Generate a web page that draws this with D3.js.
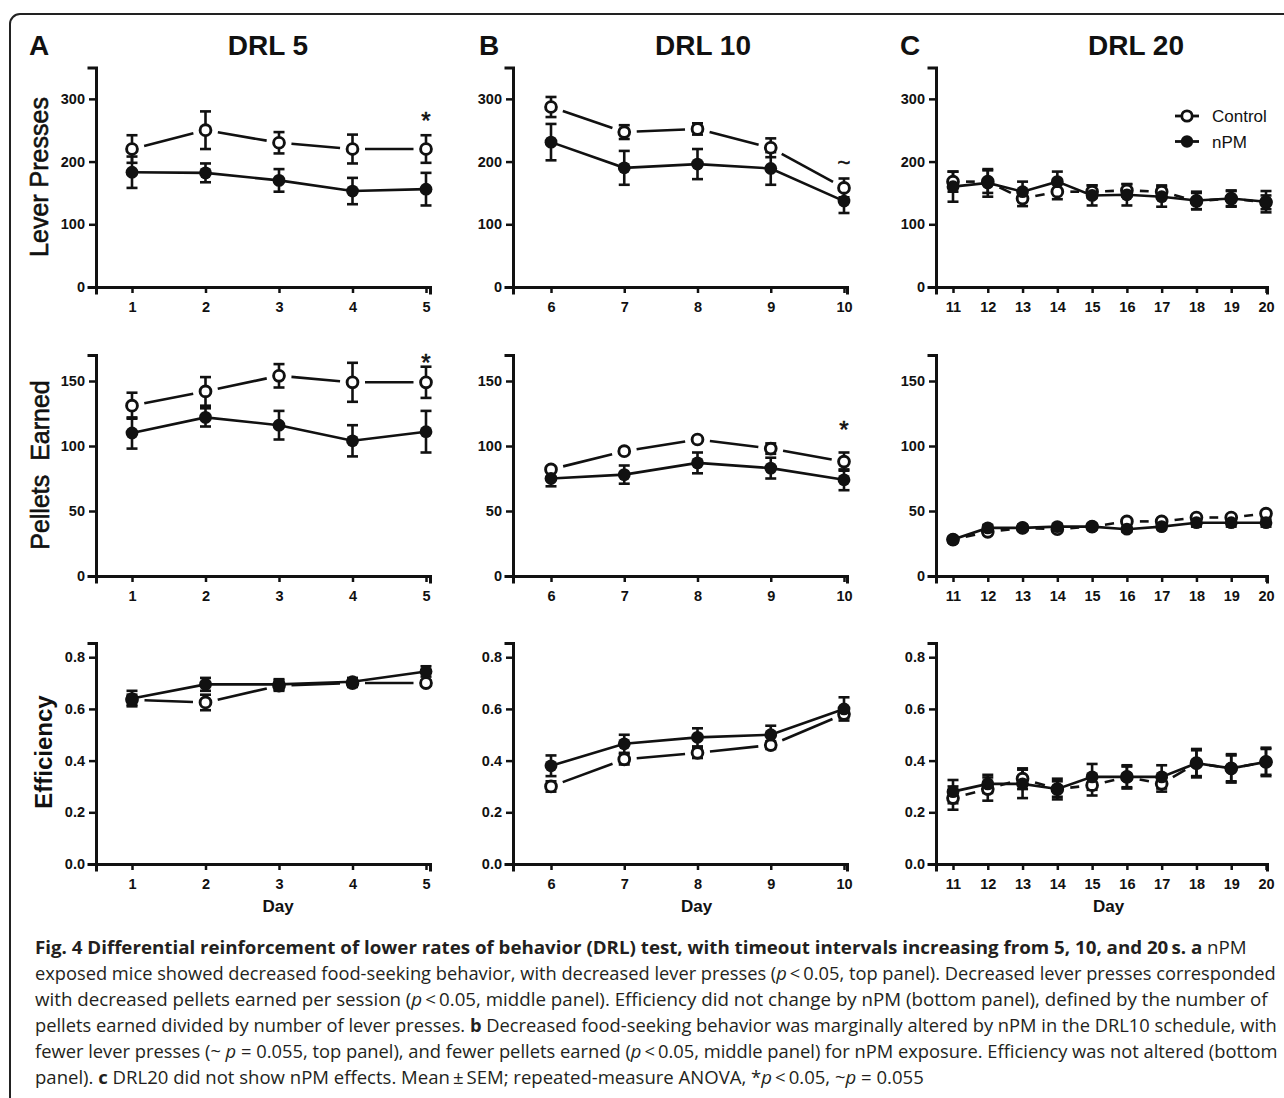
<!DOCTYPE html>
<html><head><meta charset="utf-8">
<script src="https://cdn.jsdelivr.net/npm/d3@7"></script>
<style>
body{margin:0;background:#fff}
svg text{font-family:"Liberation Sans",Arial,sans-serif}
</style>
</head><body>
<svg id="chart" width="1284" height="1098"></svg>
<script>
// ---------- DATA ----------
const daysA = [1, 2, 3, 4, 5];
const daysB = [6, 7, 8, 9, 10];
const daysC = [11, 12, 13, 14, 15, 16, 17, 18, 19, 20];

// Lever presses
const lpCtrlA = [220, 250, 230, 220, 220];
const lpCtrlErrA = [22, 30, 17, 23, 22];
const lpNpmA = [183, 182, 170, 153, 156];
const lpNpmErrA = [25, 15, 18, 21, 26];
const lpCtrlB = [287, 247, 252, 222, 158];
const lpCtrlErrB = [16, 11, 9, 15, 15];
const lpNpmB = [231, 190, 196, 189, 137];
const lpNpmErrB = [29, 27, 24, 26, 19];
const lpCtrlC = [168, 168, 141, 152, 152, 154, 152, 137, 141, 135];
const lpCtrlErrC = [16, 18, 12, 12, 10, 10, 10, 13, 12, 11];
const lpNpmC = [160, 166, 152, 168, 146, 147, 144, 138, 141, 136];
const lpNpmErrC = [24, 22, 16, 16, 16, 17, 16, 14, 13, 17];

// Pellets earned
const peCtrlA = [131, 142, 154, 149, 149];
const peCtrlErrA = [10, 11, 9, 15, 12];
const peNpmA = [110, 122, 116, 104, 111];
const peNpmErrA = [12, 7, 11, 12, 16];
const peCtrlB = [82, 96, 105, 98, 88];
const peCtrlErrB = [2, 2, 2, 4, 7];
const peNpmB = [75, 78, 87, 83, 74];
const peNpmErrB = [6, 7, 8, 8, 8];
const peCtrlC = [28, 34, 37, 36, 38, 42, 42, 45, 45, 48];
const peCtrlErrC = [2, 2, 2, 2, 2, 2, 2, 2, 2, 2];
const peNpmC = [28, 37, 37, 38, 38, 36, 38, 41, 41, 41];
const peNpmErrC = [2, 2, 2, 2, 2, 2, 2, 3, 3, 3];

// Efficiency
const efCtrlA = [0.635, 0.625, 0.69, 0.70, 0.70];
const efCtrlErrA = [0.02, 0.03, 0.02, 0.015, 0.01];
const efNpmA = [0.64, 0.695, 0.695, 0.705, 0.745];
const efNpmErrA = [0.03, 0.025, 0.02, 0.015, 0.02];
const efCtrlB = [0.30, 0.405, 0.43, 0.46, 0.58];
const efCtrlErrB = [0.02, 0.02, 0.02, 0.015, 0.015];
const efNpmB = [0.38, 0.465, 0.49, 0.50, 0.60];
const efNpmErrB = [0.04, 0.035, 0.035, 0.035, 0.045];
const efCtrlC = [0.255, 0.29, 0.33, 0.29, 0.305, 0.337, 0.31, 0.39, 0.37, 0.395];
const efCtrlErrC = [0.045, 0.045, 0.04, 0.03, 0.04, 0.04, 0.03, 0.05, 0.05, 0.05];
const efNpmC = [0.28, 0.31, 0.31, 0.29, 0.337, 0.337, 0.337, 0.39, 0.37, 0.395];
const efNpmErrC = [0.045, 0.035, 0.055, 0.04, 0.05, 0.045, 0.045, 0.055, 0.055, 0.055];

// Labels / ticks
const panelLetters = ["A", "B", "C"];
const panelTitles = ["DRL 5", "DRL 10", "DRL 20"];
const rowLabels = ["Lever Presses", "Pellets  Earned", "Efficiency"];
const yTicksLever = [0, 100, 200, 300];
const yTicksPellets = [0, 50, 100, 150];
const yTicksEff = [0, 0.2, 0.4, 0.6, 0.8];
const yMaxes = [350, 170, 0.855];
const xAxisLabel = "Day";
const legendLabels = ["Control", "nPM"];
const annotations = [
  {col: 0, row: 0, day: 5, value: 274, text: "*"},
  {col: 0, row: 1, day: 5, value: 168, text: "*"},
  {col: 1, row: 1, day: 10, value: 117, text: "*"},
  {col: 1, row: 0, day: 10, value: 198, text: "~"}
];
const captionLines = [
  [["Fig. 4 Differential reinforcement of lower rates of behavior (DRL) test, with timeout intervals increasing from 5, 10, and 20\u2009s. a", "b"], [" nPM", ""]],
  [["exposed mice showed decreased food-seeking behavior, with decreased lever presses (", ""], ["p", "i"], ["\u2009<\u20090.05, top panel). Decreased lever presses corresponded", ""]],
  [["with decreased pellets earned per session (", ""], ["p", "i"], ["\u2009<\u20090.05, middle panel). Efficiency did not change by nPM (bottom panel), defined by the number of", ""]],
  [["pellets earned divided by number of lever presses. ", ""], ["b", "b"], [" Decreased food-seeking behavior was marginally altered by nPM in the DRL10 schedule, with", ""]],
  [["fewer lever presses (~ ", ""], ["p", "i"], [" = 0.055, top panel), and fewer pellets earned (", ""], ["p", "i"], ["\u2009<\u20090.05, middle panel) for nPM exposure. Efficiency was not altered (bottom", ""]],
  [["panel). ", ""], ["c", "b"], [" DRL20 did not show nPM effects. Mean\u2009\u00b1\u2009SEM; repeated-measure ANOVA, *", ""], ["p", "i"], ["\u2009<\u20090.05, ~", ""], ["p", "i"], [" = 0.055", ""]]
];

// ---------- LAYOUT ----------
const svg = d3.select("#chart");
const INK = "#111";
const cols = [
  {left: 96, right: 430, first: 132, last: 426, days: daysA, letterX: 29, titleX: 268},
  {left: 513, right: 847, first: 551, last: 844, days: daysB, letterX: 479, titleX: 703},
  {left: 936, right: 1267, first: 953, last: 1266, days: daysC, letterX: 900, titleX: 1136}
];
const rows = [
  {bottom: 287, top: 67.5, ticks: yTicksLever, fmt: d3.format("d"), labelX: 48, labelY: 177, labelSize: 25, labelWeight: "normal"},
  {bottom: 576, top: 355, ticks: yTicksPellets, fmt: d3.format("d"), labelX: 49, labelY: 465, labelSize: 25, labelWeight: "normal"},
  {bottom: 864, top: 643, ticks: yTicksEff, fmt: d3.format(".1f"), labelX: 52, labelY: 752, labelSize: 24, labelWeight: "bold"}
];
const series = [
  [[lpCtrlA, lpCtrlErrA, lpNpmA, lpNpmErrA], [lpCtrlB, lpCtrlErrB, lpNpmB, lpNpmErrB], [lpCtrlC, lpCtrlErrC, lpNpmC, lpNpmErrC]],
  [[peCtrlA, peCtrlErrA, peNpmA, peNpmErrA], [peCtrlB, peCtrlErrB, peNpmB, peNpmErrB], [peCtrlC, peCtrlErrC, peNpmC, peNpmErrC]],
  [[efCtrlA, efCtrlErrA, efNpmA, efNpmErrA], [efCtrlB, efCtrlErrB, efNpmB, efNpmErrB], [efCtrlC, efCtrlErrC, efNpmC, efNpmErrC]]
];

// frame
svg.append("rect").attr("x", 10).attr("y", 14).attr("width", 1300).attr("height", 1120)
  .attr("rx", 10).attr("fill", "none").attr("stroke", "#222").attr("stroke-width", 2);

// titles
cols.forEach((c, ci) => {
  svg.append("text").attr("x", c.letterX).attr("y", 55).text(panelLetters[ci])
    .attr("font-size", 28).attr("font-weight", "bold").attr("fill", INK);
  svg.append("text").attr("x", c.titleX).attr("y", 55).attr("text-anchor", "middle").text(panelTitles[ci])
    .attr("font-size", 28).attr("font-weight", "bold").attr("fill", INK);
});

// row labels
rows.forEach((r, ri) => {
  svg.append("text").attr("transform", `translate(${r.labelX},${r.labelY}) rotate(-90)`)
    .attr("text-anchor", "middle").attr("font-size", r.labelSize).attr("font-weight", r.labelWeight)
    .attr("fill", INK).attr("stroke", INK).attr("stroke-width", r.labelWeight === "bold" ? 0 : 0.6)
    .style("white-space", "pre").text(rowLabels[ri]);
});

const scales = [];
rows.forEach((r, ri) => {
  scales[ri] = [];
  cols.forEach((c, ci) => {
    const days = c.days;
    const base = d3.scaleLinear().domain([days[0], days[days.length - 1]]).range([c.first, c.last]);
    const x = d3.scaleLinear().domain([base.invert(c.left), base.invert(c.right)]).range([c.left, c.right]);
    const y = d3.scaleLinear().domain([0, yMaxes[ri]]).range([r.bottom, r.top]);
    scales[ri][ci] = {x, y};
    const g = svg.append("g");

    // axes
    const gx = g.append("g").attr("transform", `translate(0,${r.bottom})`)
      .call(d3.axisBottom(x).tickValues(days).tickSizeOuter(0).tickSize(6).tickPadding(9).tickFormat(d3.format("d")));
    const gy = g.append("g").attr("transform", `translate(${c.left},0)`)
      .call(d3.axisLeft(y).tickValues(r.ticks).tickSizeOuter(0).tickSize(7).tickPadding(4).tickFormat(r.fmt));
    [gx, gy].forEach(a => {
      a.select(".domain").attr("stroke", INK).attr("stroke-width", 3).attr("stroke-linecap", "square");
      a.selectAll(".tick line").attr("stroke", INK).attr("stroke-width", 2.5);
      a.selectAll(".tick text").attr("fill", INK).attr("font-size", 14.5).attr("font-weight", "bold")
        .attr("font-family", "'Liberation Sans', Arial, sans-serif");
    });
    if (ri === 2) {
      g.append("text").attr("x", (c.first + c.last) / 2 - 1).attr("y", 912).attr("text-anchor", "middle")
        .attr("font-size", 17).attr("font-weight", "bold").attr("fill", INK).text(xAxisLabel);
    }

    const [ctrl, ctrlErr, npm, npmErr] = series[ri][ci];
    const pts = (vals, errs) => days.map((d, i) => ({x: x(d), y: y(vals[i]), lo: y(vals[i] - errs[i]), hi: y(vals[i] + errs[i])}));
    const cp = pts(ctrl, ctrlErr), np = pts(npm, npmErr);

    // nPM solid line
    g.append("path").datum(np).attr("fill", "none").attr("stroke", INK).attr("stroke-width", 2.6)
      .attr("d", d3.line().x(p => p.x).y(p => p.y));
    // control broken line (gaps at markers)
    const gap = ci === 2 ? 13 : 12.5;
    for (let i = 0; i < cp.length - 1; i++) {
      const a = cp[i], b = cp[i + 1];
      const dx = b.x - a.x, dy = b.y - a.y, L = Math.hypot(dx, dy);
      if (L <= 2 * gap) continue;
      const ux = dx / L, uy = dy / L;
      g.append("line").attr("x1", a.x + ux * gap).attr("y1", a.y + uy * gap)
        .attr("x2", b.x - ux * gap).attr("y2", b.y - uy * gap)
        .attr("stroke", INK).attr("stroke-width", 2.6);
    }
    // error bars
    const cap = 5.5;
    [cp, np].forEach(set => {
      set.forEach(p => {
        g.append("line").attr("x1", p.x).attr("x2", p.x).attr("y1", p.lo).attr("y2", p.hi)
          .attr("stroke", INK).attr("stroke-width", 2.6);
        [p.lo, p.hi].forEach(yy => g.append("line").attr("x1", p.x - cap).attr("x2", p.x + cap)
          .attr("y1", yy).attr("y2", yy).attr("stroke", INK).attr("stroke-width", 2.6));
      });
    });
    // markers
    g.selectAll(null).data(cp).enter().append("circle").attr("cx", p => p.x).attr("cy", p => p.y)
      .attr("r", 5.4).attr("fill", "#fff").attr("stroke", INK).attr("stroke-width", 2.9);
    g.selectAll(null).data(np).enter().append("circle").attr("cx", p => p.x).attr("cy", p => p.y)
      .attr("r", 6.4).attr("fill", INK);
  });
});

// annotations
annotations.forEach(a => {
  const s = scales[a.row][a.col];
  const fs = a.text === "*" ? 24 : 22;
  const lift = a.text === "*" ? 0.57 : 0.33;
  svg.append("text").attr("x", s.x(a.day)).attr("y", s.y(a.value) + lift * fs)
    .attr("text-anchor", "middle").attr("font-size", fs).attr("fill", INK)
    .attr("stroke", INK).attr("stroke-width", 0.6).text(a.text);
});

// legend
const lg = svg.append("g");
legendLabels.forEach((lab, i) => {
  const cy = 116 + i * 25.5;
  lg.append("line").attr("x1", 1175).attr("x2", 1199).attr("y1", cy).attr("y2", cy)
    .attr("stroke", INK).attr("stroke-width", 2.8);
  if (i === 0) {
    lg.append("circle").attr("cx", 1187).attr("cy", cy).attr("r", 5.2).attr("fill", "#fff")
      .attr("stroke", INK).attr("stroke-width", 2.8);
  } else {
    lg.append("circle").attr("cx", 1187).attr("cy", cy).attr("r", 6.2).attr("fill", INK);
  }
  lg.append("text").attr("x", 1212).attr("y", cy + 6).attr("font-size", 17).attr("fill", INK).text(lab);
});

// caption
const capBaselines = [954, 980, 1006, 1032, 1058, 1084];
const capWidths = [1212, 1242, 1233, 1243, 1243, 889];
captionLines.forEach((segs, li) => {
  const t = svg.append("text").attr("font-size", 18).attr("fill", "#231f20")
    .style("font-family", "'Open Sans', 'Noto Sans', sans-serif").style("white-space", "pre");
  segs.forEach(([txt, st]) => {
    const ts = t.append("tspan").text(txt);
    if (st === "b") ts.attr("font-weight", "bold");
    if (st === "i") ts.attr("font-style", "italic");
  });
  const w = t.node().getComputedTextLength();
  const sx = capWidths[li] / w;
  t.attr("transform", `translate(35,${capBaselines[li]}) scale(${sx},1)`);
});
</script>
</body></html>
